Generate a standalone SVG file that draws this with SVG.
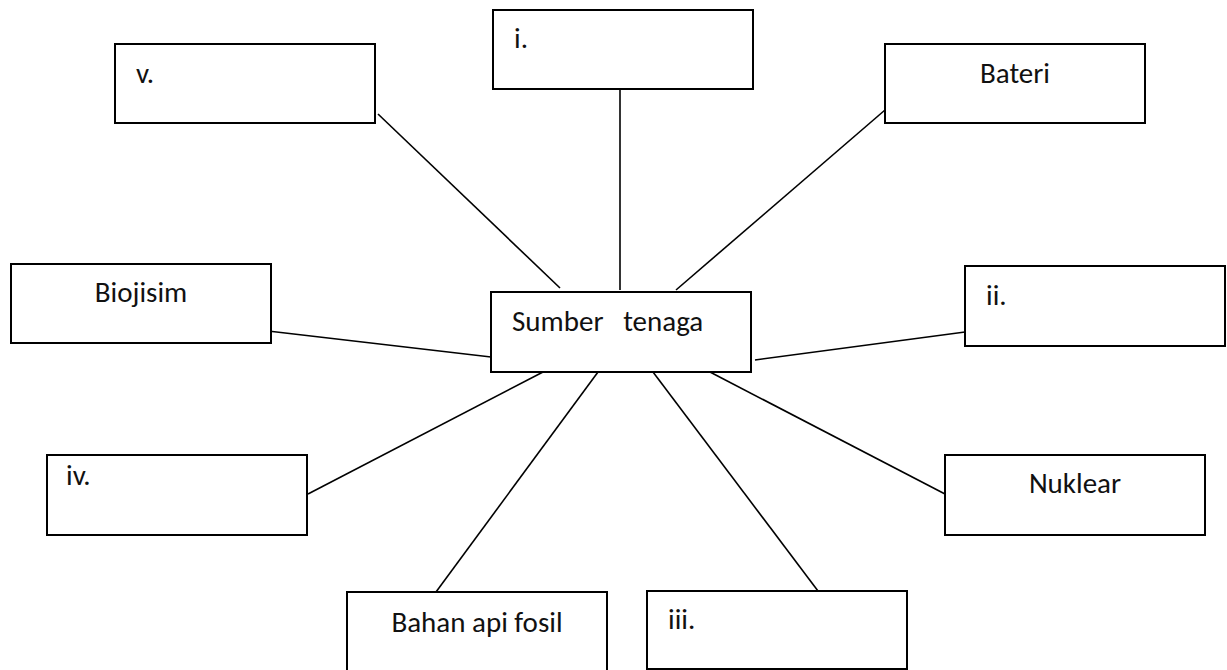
<svg xmlns="http://www.w3.org/2000/svg" width="1227" height="670" viewBox="0 0 1227 670">
  <style>
    .box { fill: #ffffff; stroke: #000000; stroke-width: 2; }
    .link { stroke: #000000; stroke-width: 1.6; fill: none; }
    .lbl { font-family: Carlito, Lato, "Liberation Sans", sans-serif; font-size: 29px; fill: #111111; }
    .mid { text-anchor: middle; }
  </style>
  <rect width="1227" height="670" fill="#ffffff"/>

  <!-- spokes from the central node -->
  <g id="connectors">
    <line class="link" x1="378" y1="114" x2="560" y2="288"/>
    <line class="link" x1="620" y1="89" x2="620" y2="290"/>
    <line class="link" x1="676" y1="290" x2="885" y2="110"/>
    <line class="link" x1="268" y1="331" x2="491" y2="357"/>
    <line class="link" x1="755" y1="360" x2="965" y2="332"/>
    <line class="link" x1="543" y1="372" x2="308" y2="494"/>
    <line class="link" x1="598" y1="372" x2="436" y2="592"/>
    <line class="link" x1="653" y1="372" x2="818" y2="591"/>
    <line class="link" x1="710" y1="372" x2="945" y2="494"/>
  </g>

  <g id="node-center">
    <rect class="box" x="491" y="292" width="260" height="80"/>
    <text class="lbl" x="512" y="331" xml:space="preserve">Sumber   tenaga</text>
  </g>

  <g id="node-v">
    <rect class="box" x="115" y="44" width="260" height="79"/>
    <text class="lbl" x="136" y="83">v.</text>
  </g>

  <g id="node-i">
    <rect class="box" x="493" y="10" width="260" height="79"/>
    <text class="lbl" x="514" y="48">i.</text>
  </g>

  <g id="node-bateri">
    <rect class="box" x="885" y="44" width="260" height="79"/>
    <text class="lbl mid" x="1015" y="83">Bateri</text>
  </g>

  <g id="node-biojisim">
    <rect class="box" x="11" y="264" width="260" height="79"/>
    <text class="lbl mid" x="141" y="302">Biojisim</text>
  </g>

  <g id="node-ii">
    <rect class="box" x="965" y="266" width="260" height="80"/>
    <text class="lbl" x="986" y="305">ii.</text>
  </g>

  <g id="node-iv">
    <rect class="box" x="47" y="455" width="260" height="80"/>
    <text class="lbl" x="66" y="485">iv.</text>
  </g>

  <g id="node-nuklear">
    <rect class="box" x="945" y="455" width="260" height="80"/>
    <text class="lbl mid" x="1075" y="493">Nuklear</text>
  </g>

  <g id="node-fosil">
    <rect class="box" x="347" y="592" width="260" height="80"/>
    <text class="lbl mid" x="477" y="632">Bahan api fosil</text>
  </g>

  <g id="node-iii">
    <rect class="box" x="647" y="591" width="260" height="78"/>
    <text class="lbl" x="668" y="629">iii.</text>
  </g>
</svg>
